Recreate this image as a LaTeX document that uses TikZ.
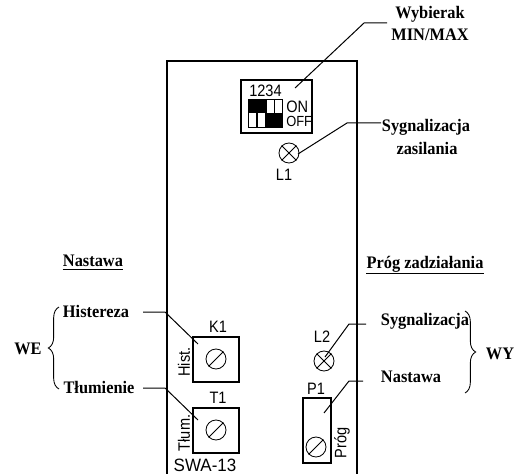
\documentclass[tikz,border=0pt]{standalone}
\usepackage{fontspec}
\setmainfont{Liberation Serif}
\setsansfont{Liberation Sans}
\newfontfamily\lblfont[FakeStretch=0.93]{Liberation Serif Bold}
\newfontfamily\narrowsans[FakeStretch=0.88]{Liberation Sans}
\newfontfamily\widesans[FakeStretch=0.95]{Liberation Sans}
\usetikzlibrary{decorations.pathreplacing}
\tikzset{
  x=0.75pt,y=-0.75pt,
  lbl/.style={inner sep=0pt,font=\lblfont\fontsize{13.2}{15}\selectfont},
  sans/.style={inner sep=0pt,font=\narrowsans\fontsize{12.4}{13}\selectfont},
  wall/.style={line width=2.2pt,draw=black},
  frame/.style={draw=black,line width=1.8pt,inner sep=0pt,fill=white},
  leader/.style={draw=black,line width=0.75pt},
  dial/.style={circle,draw=black,line width=0.65pt,minimum size=15pt,inner sep=0pt},
  bracket/.style={draw=black,line width=0.65pt,decorate,decoration={brace,amplitude=8pt,aspect=0.5}},
  sw/.style={draw=black,line width=0.5pt,inner sep=0pt,minimum width=5.8pt,minimum height=21.5pt,
    path picture={\fill[black] (path picture bounding box.north west) rectangle (path picture bounding box.east);}},
  swb/.style={draw=black,line width=0.5pt,inner sep=0pt,minimum width=5.8pt,minimum height=21.5pt,
    path picture={\fill[black] (path picture bounding box.south west) rectangle (path picture bounding box.east);}},
}
\begin{document}
\begin{tikzpicture}
\useasboundingbox (0,0) rectangle (517,474);
\fill[white] (0,0) rectangle (517,474);
% enclosure
\draw[wall] (167,474) -- (167,61) -- (357,61) -- (357,474);
% DIP switch
\node[frame,minimum width=53pt,minimum height=40pt] (dip) at (276.5,106.5) {};
\node[sans] (nums) at (265.5,91) {1234};
\node[sw] (s1) at (252.5,113.5) {};
\node[sw] (s2) at (261,113.5) {};
\node[swb] (s3) at (270,113.5) {};
\node[swb] (s4) at (278,113.5) {};
\node[sans,anchor=west] (on) at (286,106.5) {ON};
\node[sans,anchor=west,font=\narrowsans\fontsize{11}{12}\selectfont] (off) at (286,121.5) {OFF};
% lamps and trimmers
\node[dial] (l1) at (289,153) {};
\draw[leader,line width=0.65pt] (l1.45) -- (l1.225) (l1.135) -- (l1.315);
\node[sans] (l1t) at (284,175) {L1};
\node[frame,minimum width=34.5pt,minimum height=33.5pt] (k1) at (216,359.5) {};
\node[dial] (k1d) at (216,359) {};
\draw[leader,line width=0.65pt] (k1d.45) -- (k1d.225);
\node[sans] (k1t) at (218,327) {K1};
\node[frame,minimum width=34.5pt,minimum height=33.5pt] (t1) at (216,430.5) {};
\node[dial] (t1d) at (216,430) {};
\draw[leader,line width=0.65pt] (t1d.45) -- (t1d.225);
\node[sans] (t1t) at (218,398) {T1};
\node[sans,rotate=90] (hist) at (184,362) {Hist.};
\node[sans,rotate=90] (tlum) at (184,433) {Tłum.};
\node[sans,font=\widesans\fontsize{13.4}{14}\selectfont] (swa) at (205,465) {SWA-13};
\node[dial] (l2) at (324,361) {};
\draw[leader,line width=0.65pt] (l2.45) -- (l2.225) (l2.135) -- (l2.315);
\node[sans] (l2t) at (322,337) {L2};
\node[frame,minimum width=21pt,minimum height=48.5pt] (p1) at (317,430.5) {};
\node[dial] (p1d) at (316,447) {};
\draw[leader,line width=0.65pt] (p1d.45) -- (p1d.225);
\node[sans] (p1t) at (316,389) {P1};
\node[sans,rotate=90] (prog) at (342,443) {Próg};
% labels
\node[lbl] (wyb) at (430,14) {Wybierak};
\node[lbl] (minmax) at (430,35) {MIN/MAX};
\node[lbl] (syz) at (426,127) {Sygnalizacja};
\node[lbl] (zas) at (427,148) {zasilania};
\node[lbl] (nas) at (93,261) {Nastawa};
\node[lbl] (pro) at (425,264) {Próg zadziałania};
\draw[line width=0.8pt] (nas.west |- 0,269.5) -- (nas.east |- 0,269.5) (pro.west |- 0,273.5) -- (pro.east |- 0,273.5);
\node[lbl] (his) at (96,311) {Histereza};
\node[lbl] (tlu) at (99,387) {Tłumienie};
\node[lbl] (syg) at (425,321) {Sygnalizacja};
\node[lbl] (nas2) at (411,377) {Nastawa};
\node[lbl] (we) at (28,349) {WE};
\node[lbl] (wy) at (500,354) {WY};
% leader ends
\coordinate (a0) at (387,23);
\coordinate (a1) at (295,88);
\coordinate (b0) at (381,123);
\coordinate (a2) at (298,154);
\coordinate (c0) at (143,312);
\coordinate (a3) at (198,344);
\coordinate (d0) at (143,388);
\coordinate (a4) at (198,420);
\coordinate (e0) at (366,324);
\coordinate (a5) at (325,357);
\coordinate (f0) at (363,381);
\coordinate (a6) at (324,413);
\draw[leader] (a0) -- (364,23) -- (a1);
\draw[leader] (b0) -- (347,123) -- (a2);
\draw[leader] (c0) -- (165,312) -- (a3);
\draw[leader] (d0) -- (165,388) -- (a4);
\draw[leader] (e0) -- (349,324) -- (a5);
\draw[leader] (f0) -- (349,381) -- (a6);
% braces
\coordinate (b1) at (59,307);
\coordinate (b2) at (59,389);
\coordinate (b3) at (465,311);
\coordinate (b4) at (465,393);
\draw[bracket] (b2) -- (b1);
\draw[bracket] (b3) -- (b4);
\end{tikzpicture}
\end{document}
